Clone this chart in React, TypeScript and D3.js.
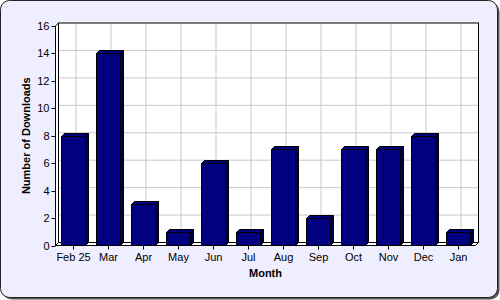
import React from "react";
import * as d3 from "d3";

const months = ["Feb 25", "Mar", "Apr", "May", "Jun", "Jul", "Aug", "Sep", "Oct", "Nov", "Dec", "Jan"];
const downloads = [8, 14, 3, 1, 6, 1, 7, 2, 7, 7, 8, 1];
const yTicks = [0, 2, 4, 6, 8, 10, 12, 14, 16];

export default function App() {
  const W = 500, H = 300;
  const X0 = 55.5, X1 = 475.5, Y0 = 245.5, YT = 26;
  const d = 3;
  const x = d3.scaleBand<string>().domain(months).range([X0, X1]).paddingInner(0.32).paddingOuter(0.16);
  const xc = d3.scaleBand<string>().domain(months).range([X0, X1]);
  const y = d3.scaleLinear().domain([0, 16]).range([Y0, YT]);
  const font = "'Liberation Sans', Arial, sans-serif";
  const grid = "#c8c8c8";
  return (
    <svg width={W} height={H} style={{ position: "absolute", left: 0, top: 0 }}>
      <rect x={2.5} y={2.5} width={W - 3} height={H - 3} rx={9} fill="#555" />
      <rect x={0.5} y={0.5} width={W - 3} height={H - 3} rx={9} fill="#eeeefe" stroke="#222" />
      {/* back wall */}
      <rect x={X0 + d} y={YT - d} width={X1 - X0} height={Y0 - YT} fill="#fff" />
      {yTicks.filter(t => t > 0 && t < 16).map(t => (
        <line key={"gy" + t} x1={X0 + d} x2={X1 + d} y1={y(t) - d} y2={y(t) - d} stroke={grid} />
      ))}
      {months.map(m => (
        <line key={"gx" + m} x1={xc(m)! + xc.bandwidth() / 2 + d} x2={xc(m)! + xc.bandwidth() / 2 + d} y1={YT - d} y2={Y0 - d} stroke={grid} />
      ))}
      <rect x={X0 + d} y={YT - d} width={X1 - X0} height={Y0 - YT} fill="none" stroke="#000" />
      {/* left wall */}
      <polygon points={`${X0},${YT} ${X0 + d},${YT - d} ${X0 + d},${Y0 - d} ${X0},${Y0}`} fill="#fff" stroke="#000" />
      {/* floor */}
      <polygon points={`${X0},${Y0} ${X0 + d},${Y0 - d} ${X1 + d},${Y0 - d} ${X1},${Y0}`} fill="#fff" stroke="#000" />
      {/* bars */}
      {months.map((m, i) => {
        const bx = Math.round(x(m)!) + 0.5;
        const bw = Math.round(x.bandwidth());
        const by = Math.round(y(downloads[i])) + 0.5;
        const bb = Y0;
        return (
          <g key={"b" + m}>
            <polygon points={`${bx},${by} ${bx + d},${by - d} ${bx + bw + d},${by - d} ${bx + bw},${by}`} fill="#000080" stroke="#000" />
            <polygon points={`${bx + bw},${by} ${bx + bw + d},${by - d} ${bx + bw + d},${bb - d} ${bx + bw},${bb}`} fill="#000048" stroke="#000" />
            <rect x={bx} y={by} width={bw} height={bb - by} fill="#000080" stroke="#000" />
          </g>
        );
      })}
      {/* y axis ticks */}
      {yTicks.map(t => (
        <g key={"yt" + t}>
          <line x1={X0 - 4} x2={X0} y1={Math.round(y(t)) + 0.5} y2={Math.round(y(t)) + 0.5} stroke="#000" />
          <text x={X0 - 6} y={y(t) + 4} textAnchor="end" fontFamily={font} fontSize={11} fill="#000">{t}</text>
        </g>
      ))}
      {/* x axis ticks */}
      {months.map(m => {
        const cx = Math.round(xc(m)! + xc.bandwidth() / 2) + 0.5;
        return (
          <g key={"xt" + m}>
            <line x1={cx} x2={cx} y1={Y0} y2={Y0 + 4} stroke="#000" />
            <text x={cx} y={261} textAnchor="middle" fontFamily={font} fontSize={11} fill="#000">{m}</text>
          </g>
        );
      })}
      <text x={(X0 + X1) / 2} y={277} textAnchor="middle" fontFamily={font} fontSize={11} fontWeight="bold" fill="#000">Month</text>
      <text transform={`translate(30,${(Y0 + YT) / 2}) rotate(-90)`} textAnchor="middle" fontFamily={font} fontSize={11} fontWeight="bold" fill="#000">Number of Downloads</text>
    </svg>
  );
}
